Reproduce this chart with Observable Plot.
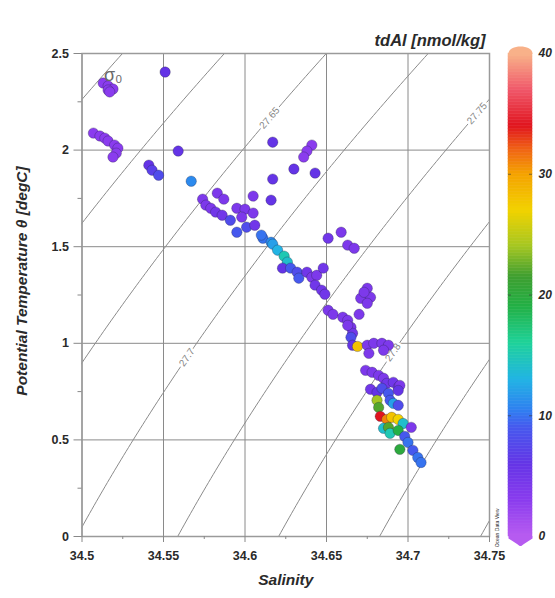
<!DOCTYPE html>
<html><head><meta charset="utf-8">
<script src="https://cdn.jsdelivr.net/npm/d3@7"></script>
<script src="https://cdn.jsdelivr.net/npm/@observablehq/plot@0.6"></script>
<style>
body{margin:0;background:#fff}
#wrap{position:relative;width:555px;height:598px;font-family:"Liberation Sans",Arial,sans-serif}
</style></head><body><div id="wrap"></div>
<script>
// ---- data ----
const sal = [34.513,34.516,34.519,34.516,34.517,34.507,34.511,34.514,34.516,34.520,34.522,34.521,34.519,
34.551,34.559,34.541,34.543,34.547,34.567,34.617,34.641,34.638,34.636,34.630,34.643,34.617,34.605,34.616,
34.574,34.576,34.579,34.583,34.587,34.582,34.586,34.591,34.595,34.600,34.598,34.605,34.595,34.601,34.606,
34.611,34.616,34.610,34.617,34.620,34.624,34.626,34.623,34.628,34.632,34.633,34.638,34.641,34.644,34.648,
34.643,34.647,34.649,34.651,34.659,34.663,34.667,34.675,34.671,34.677,34.675,34.673,34.651,34.654,34.660,
34.663,34.665,34.670,34.666,34.663,34.665,34.666,34.669,34.675,34.679,34.684,34.688,34.685,34.676,34.674,
34.678,34.682,34.685,34.687,34.691,34.694,34.695,34.677,34.681,34.684,34.688,34.694,34.681,34.682,34.689,
34.691,34.694,34.683,34.687,34.690,34.694,34.697,34.685,34.688,34.689,34.694,34.702,34.698,34.700,34.695,
34.703,34.706,34.708];
const theta = [2.347,2.332,2.316,2.311,2.301,2.088,2.073,2.062,2.047,2.026,2.010,1.984,1.964,
2.404,1.995,1.922,1.896,1.870,1.839,2.041,2.026,1.995,1.964,1.902,1.881,1.850,1.762,1.741,
1.746,1.715,1.699,1.777,1.746,1.679,1.663,1.637,1.699,1.694,1.653,1.674,1.575,1.601,1.611,
1.544,1.523,1.560,1.513,1.482,1.451,1.420,1.389,1.389,1.368,1.337,1.368,1.342,1.352,1.389,
1.301,1.275,1.254,1.544,1.575,1.508,1.492,1.285,1.233,1.238,1.207,1.264,1.171,1.150,1.135,
1.119,1.083,1.150,1.052,1.093,1.031,0.990,0.984,0.990,1.000,1.000,0.990,0.964,0.948,0.860,
0.850,0.834,0.819,0.793,0.798,0.772,0.782,0.762,0.746,0.767,0.741,0.756,0.705,0.668,0.705,
0.689,0.679,0.622,0.606,0.617,0.606,0.585,0.560,0.565,0.534,0.549,0.565,0.518,0.487,0.451,
0.446,0.409,0.383];
const tdAl = [3,3,3,3,3,3,3,3,3,3,3,3,3,
6,6,6,7,8,11,6,3,3,3,6,6,6,4,6,
4,4,4,4,4,5,5,8,4,4,4,4,9,8,5,
10,11,10,12,13,15,14,6,9,8,9,5,4,4,5,
5,5,5,5,4,4,4,4,4,4,4,4,4,4,4,
4,4,4,5,4,8,6,28,4,4,4,4,4,4,4,
4,4,4,5,5,5,4,5,6,8,9,6,24,22,9,
12,8,34,31,28,27,14,14,22,15,19,4,9,10,20,
9,10,10];

const xTicks = [34.5,34.55,34.6,34.65,34.7,34.75];
const xMinor = [34.525,34.575,34.625,34.675,34.725];
const yTicks = [0,0.5,1,1.5,2,2.5];
const yMinor = [0.25,0.75,1.25,1.75,2.25];
const isoLevels = [27.55,27.6,27.65,27.7,27.75,27.8,27.85,27.9];
const isoLabels = [{sigma:27.65,theta:2.166},{sigma:27.7,theta:0.927},{sigma:27.75,theta:2.19},{sigma:27.8,theta:0.953}];
const cbTicks = [0,10,20,30,40];
const colorStops = [0,3,6,9,10.5,13,16,19,21.5,24,27,30,32,34,37,40];
const colorRange = ["#b85cf0","#8a3cee","#6434e6","#4658ee","#2f80f0","#22b4e4","#1fd29a","#22b045","#3e9e30","#a4c622","#f2d200","#f4a200","#f06414","#e0141e","#f0586a","#f8b48a"];

// ---- sigma-0 (EOS-80, p = 0) for the isopycnals ----
function sigma0(S,T){
  const rw = 999.842594 + 6.793952e-2*T - 9.095290e-3*T*T + 1.001685e-4*T**3 - 1.120083e-6*T**4 + 6.536332e-9*T**5;
  const A = 8.24493e-1 - 4.0899e-3*T + 7.6438e-5*T*T - 8.2467e-7*T**3 + 5.3875e-9*T**4;
  const B = -5.72466e-3 + 1.0227e-4*T - 1.6546e-6*T*T;
  return rw + A*S + B*S**1.5 + 4.8314e-4*S*S - 1000;
}
function salFor(sig,T){
  let lo=33, hi=36;
  for(let i=0;i<60;i++){const m=(lo+hi)/2; if(sigma0(m,T)<sig) lo=m; else hi=m;}
  return (lo+hi)/2;
}
const W=555,H=598,ML=81.5,MR=66,MT=53,MB=62;
const pxS=(W-ML-MR)/0.25, pxT=(H-MT-MB)/2.5;
const thetaGrid=d3.range(0,2.5001,0.02);
const iso=[];
for(const s of isoLevels) for(const t of thetaGrid) iso.push({sigma:s,S:salFor(s,t),T:t});
const labs=isoLabels.map(d=>{
  const S=salFor(d.sigma,d.theta), S2=salFor(d.sigma,d.theta+0.05);
  const ang=Math.atan2(0.05*pxT,(S2-S)*pxS)*180/Math.PI;
  return {S,T:d.theta,text:String(d.sigma),rot:-ang};
});
const pts=sal.map((s,i)=>({s,t:theta[i],v:tdAl[i]}));
const colorCfg={type:"linear",domain:colorStops,range:colorRange,interpolate:"rgb"};
const fmt=d=>String(+d.toFixed(3));

const main=Plot.plot({
  width:W,height:H,marginLeft:ML,marginRight:MR,marginTop:MT,marginBottom:MB,
  style:{fontFamily:"'Liberation Sans',Arial,sans-serif",fontSize:"12.5px",fontWeight:"bold",color:"#2a2a2a",background:"#fff"},
  x:{domain:[34.5,34.75]},
  y:{domain:[0,2.5]},
  color:colorCfg,
  marks:[
    Plot.gridX(xTicks,{stroke:"#8a8a8a",strokeOpacity:1,strokeWidth:1}),
    Plot.gridY(yTicks,{stroke:"#8a8a8a",strokeOpacity:1,strokeWidth:1}),
    Plot.line(iso,{x:"S",y:"T",z:"sigma",stroke:"#8a8a8a",strokeWidth:1,clip:true}),
    Plot.text(labs,{x:"S",y:"T",text:"text",rotate:"rot",fill:"#858585",stroke:"white",strokeWidth:5,paintOrder:"stroke",fontSize:10,fontWeight:"normal"}),
    Plot.frame({stroke:"#9a9a9a",strokeWidth:1.5}),
    Plot.axisX({ticks:xTicks,tickFormat:fmt,tickSize:6,tickPadding:9,stroke:"#888",label:null}),
    Plot.axisX({ticks:xMinor,tickSize:3,text:null,stroke:"#888",label:null}),
    Plot.axisY({ticks:yTicks,tickFormat:fmt,tickSize:8,tickPadding:5,stroke:"#888",label:null}),
    Plot.axisY({ticks:yMinor,tickSize:4,text:null,stroke:"#888",label:null}),
    Plot.dot(pts,{x:"s",y:"t",fill:"v",r:5.2,stroke:"#202040",strokeOpacity:0.3,strokeWidth:1}),
    Plot.text(["σ₀"],{frameAnchor:"top-left",dx:22,dy:15,fontSize:18,fontWeight:"normal",fill:"#6a6a6a"}),
    Plot.text(["Salinity"],{frameAnchor:"bottom",dy:48,fontSize:15.5,fontStyle:"italic"}),
    Plot.text(["Potential Temperature θ [degC]"],{frameAnchor:"left",dx:-60,rotate:-90,textAnchor:"middle",dy:-14,fontSize:15.5,fontStyle:"italic"}),
    Plot.text(["tdAl [nmol/kg]"],{frameAnchor:"top-right",dx:-4,dy:-19,textAnchor:"end",fontSize:16.5,fontStyle:"italic"}),
    Plot.text(["Ocean Data View"],{frameAnchor:"bottom-right",dx:9,dy:-28,rotate:-90,fontSize:5,fontWeight:"normal"})
  ]
});
document.getElementById("wrap").appendChild(main);

// colour-bar end caps (rounded top, pointed bottom)
const capTop={draw(ctx){ctx.moveTo(-12,0.5);ctx.bezierCurveTo(-12,-5,-6,-7,0,-7);ctx.bezierCurveTo(6,-7,12,-5,12,0.5);ctx.closePath();}};
const capBottom={draw(ctx){ctx.moveTo(-12,-0.5);ctx.lineTo(-12,2);ctx.quadraticCurveTo(-4,7,-1.5,9);ctx.quadraticCurveTo(0,10,1.5,9);ctx.quadraticCurveTo(4,7,12,2);ctx.lineTo(12,-0.5);ctx.closePath();}};
const step=0.25;
const steps=d3.range(0,40,step);
const cb=Plot.plot({
  width:60,height:H,marginLeft:13,marginRight:23,marginTop:MT,marginBottom:MB,
  style:{fontFamily:"'Liberation Sans',Arial,sans-serif",fontSize:"12px",fontWeight:"bold",fontStyle:"italic",color:"#2a2a2a",background:"transparent",overflow:"visible"},
  x:{domain:[0,1],axis:null},
  y:{domain:[0,40],axis:null},
  color:colorCfg,
  marks:[
    Plot.rect(steps,{x1:0,x2:1,y1:d=>d,y2:d=>d+step,fill:d=>d+step/2,stroke:d=>d+step/2,strokeWidth:0.5}),
    Plot.dot([40],{x:0.5,y:d=>d,symbol:capTop,r:1,fill:d=>d-0.1}),
    Plot.dot([0],{x:0.5,y:d=>d,symbol:capBottom,r:1,fill:d=>d+0.1}),
    Plot.tickY([10,20,30],{y:d=>d,stroke:"#333",strokeOpacity:0.6,strokeDasharray:"3 18 3"}),
    Plot.axisY({anchor:"right",ticks:cbTicks,tickSize:0,tickPadding:6,label:null})
  ]
});
cb.style.position="absolute";cb.style.left="495px";cb.style.top="0px";
document.getElementById("wrap").appendChild(cb);
</script></body></html>
